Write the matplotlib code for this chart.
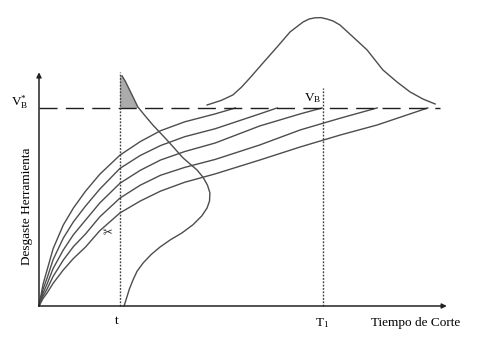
#!/usr/bin/env python3
"""Tool wear curves (desgaste vs tiempo de corte) with the two life distributions."""
import matplotlib
matplotlib.use("Agg")
import matplotlib.pyplot as plt

# wear curves, all start at the origin (time, wear)
wear_t = [0, 0.1, 0.2, 0.35, 0.6, 0.85, 1.15, 1.5, 2.0, 2.5, 3.0, 3.6, 4.35,
          5.45, 6.45, 7.45, 8.35]
wear_1 = [0, 1.1, 1.82, 2.9, 4.09, 4.95, 5.8, 6.65, 7.62, 8.3, 8.85, 9.3, 9.70]
wear_2 = [0, 0.85, 1.41, 2.35, 3.43, 4.25, 5.05, 5.9, 6.95, 7.6, 8.1, 8.55, 8.95,
          9.70]
wear_3 = [0, 0.65, 1.11, 1.9, 2.83, 3.6, 4.34, 5.2, 6.2, 6.85, 7.37, 7.8, 8.23,
          9.09, 9.70]
wear_4 = [0, 0.5, 0.86, 1.5, 2.32, 3.0, 3.64, 4.5, 5.45, 6.1, 6.6, 7.0, 7.4,
          8.13, 8.89, 9.49]
wear_5 = [0, 0.38, 0.66, 1.15, 1.82, 2.4, 2.98, 3.8, 4.7, 5.3, 5.8, 6.25, 6.67,
          7.37, 8.03, 8.64, 9.14]
wear_end_t = [4.85, 5.88, 6.99, 8.35, 9.6]   # time where each curve hits VB

VB = 10.0
t_cut = 2.0
T1 = 7.0

# wear distribution at time t (drawn sideways)
dist_t_x = [2.05, 2.13, 2.20, 2.32, 2.44, 2.62, 2.81, 3.16, 3.56, 3.90, 4.05,
            4.16, 4.22, 4.21, 4.15, 4.02, 3.80, 3.53, 3.25, 2.99, 2.77, 2.57,
            2.42, 2.32, 2.23, 2.17, 2.10]
dist_t_y = [11.62, 11.35, 11.06, 10.56, 10.05, 9.60, 9.14, 8.38, 7.47, 6.87,
            6.50, 6.10, 5.71, 5.30, 4.95, 4.55, 4.10, 3.69, 3.35, 2.98, 2.60,
            2.17, 1.75, 1.31, 0.85, 0.45, 0.0]

# tool life distribution around T1 (sits on the VB line)
life_x = [4.15, 4.50, 4.79, 5.00, 5.21, 5.53, 5.88, 6.20, 6.52, 6.67, 6.81,
          6.96, 7.11, 7.26, 7.43, 7.75, 8.10, 8.49, 8.84, 9.16, 9.48, 9.78]
life_y = [10.15, 10.38, 10.66, 11.05, 11.52, 12.27, 13.08, 13.84, 14.34, 14.49,
          14.55, 14.56, 14.49, 14.39, 14.19, 13.59, 12.93, 11.92, 11.31, 10.81,
          10.45, 10.20]

plt.rcParams["font.family"] = ["Liberation Serif", "DejaVu Sans"]
plt.rcParams["mathtext.fontset"] = "custom"
plt.rcParams["mathtext.rm"] = "Liberation Serif"
plt.rcParams["mathtext.it"] = "Liberation Serif"
plt.rcParams["lines.scale_dashes"] = False

fig = plt.figure(figsize=(4.91, 3.42), dpi=100)
ax = fig.add_axes([0, 0, 1, 1])
ax.set_xlim(-0.963, 11.16)
ax.set_ylim(-1.818, 15.45)
ax.axis("off")

curve_col = "#4d4d4d"
for ys, end in zip([wear_1, wear_2, wear_3, wear_4, wear_5], wear_end_t):
    xs = wear_t[:len(ys)] + [end]
    ax.plot(xs, ys + [VB], color=curve_col, lw=1.0, solid_joinstyle="round")

# VB limit
ax.plot([0, 9.9], [VB, VB], color="#1e1e1e", lw=1.0, dashes=(13, 6))

# vertical dotted lines at t and T1
ax.plot([t_cut, t_cut], [0, 11.8], color="#404040", lw=1.0, dashes=(1.3, 1.1))
ax.plot([T1, T1], [0, 11.0], color="#404040", lw=1.0, dashes=(1.3, 1.1))

# distributions
ax.plot(dist_t_x, dist_t_y, color=curve_col, lw=1.0, solid_joinstyle="round")
ax.plot(life_x, life_y, color=curve_col, lw=1.0, solid_joinstyle="round")

# shaded part of the distribution above VB
top = [i for i, y in enumerate(dist_t_y) if y >= VB]
poly_x = [t_cut] + [dist_t_x[i] for i in top] + [dist_t_x[top[-1]], t_cut]
poly_y = [dist_t_y[top[0]]] + [dist_t_y[i] for i in top] + [VB, VB]
ax.fill(poly_x, poly_y, color="#ababab", lw=0)

# axes with arrows
ax.annotate("", xy=(0, 11.8), xytext=(0, 0),
            arrowprops=dict(arrowstyle="-|>", color="#222222", lw=1.1,
                            mutation_scale=7, shrinkA=0, shrinkB=0))
ax.annotate("", xy=(10.07, 0), xytext=(0, 0),
            arrowprops=dict(arrowstyle="-|>", color="#222222", lw=1.1,
                            mutation_scale=7, shrinkA=0, shrinkB=0))

ax.text(-0.47, 10.3, r"V$_\mathrm{B}^{*}$", fontsize=9.5, ha="center", va="center")
ax.text(6.98, 10.5, r"V$_\mathrm{B}$", fontsize=9.5, ha="right", va="center")
ax.text(1.93, -0.78, "t", fontsize=9.5, ha="center", va="center")
ax.text(7.0, -0.85, r"T$_\mathrm{1}$", fontsize=9.5, ha="center", va="center")
ax.text(9.31, -0.86, "Tiempo de Corte", fontsize=9.5, ha="center", va="center")
ax.text(-0.30, 5.05, "Desgaste Herramienta", fontsize=9.5, rotation=90,
        ha="center", va="center")
ax.text(1.68, 3.74, "\u2702", fontsize=8.5, color="#333333", ha="center",
        va="center", family=["DejaVu Sans"])

fig.savefig("out.png", dpi=100, facecolor="white")
